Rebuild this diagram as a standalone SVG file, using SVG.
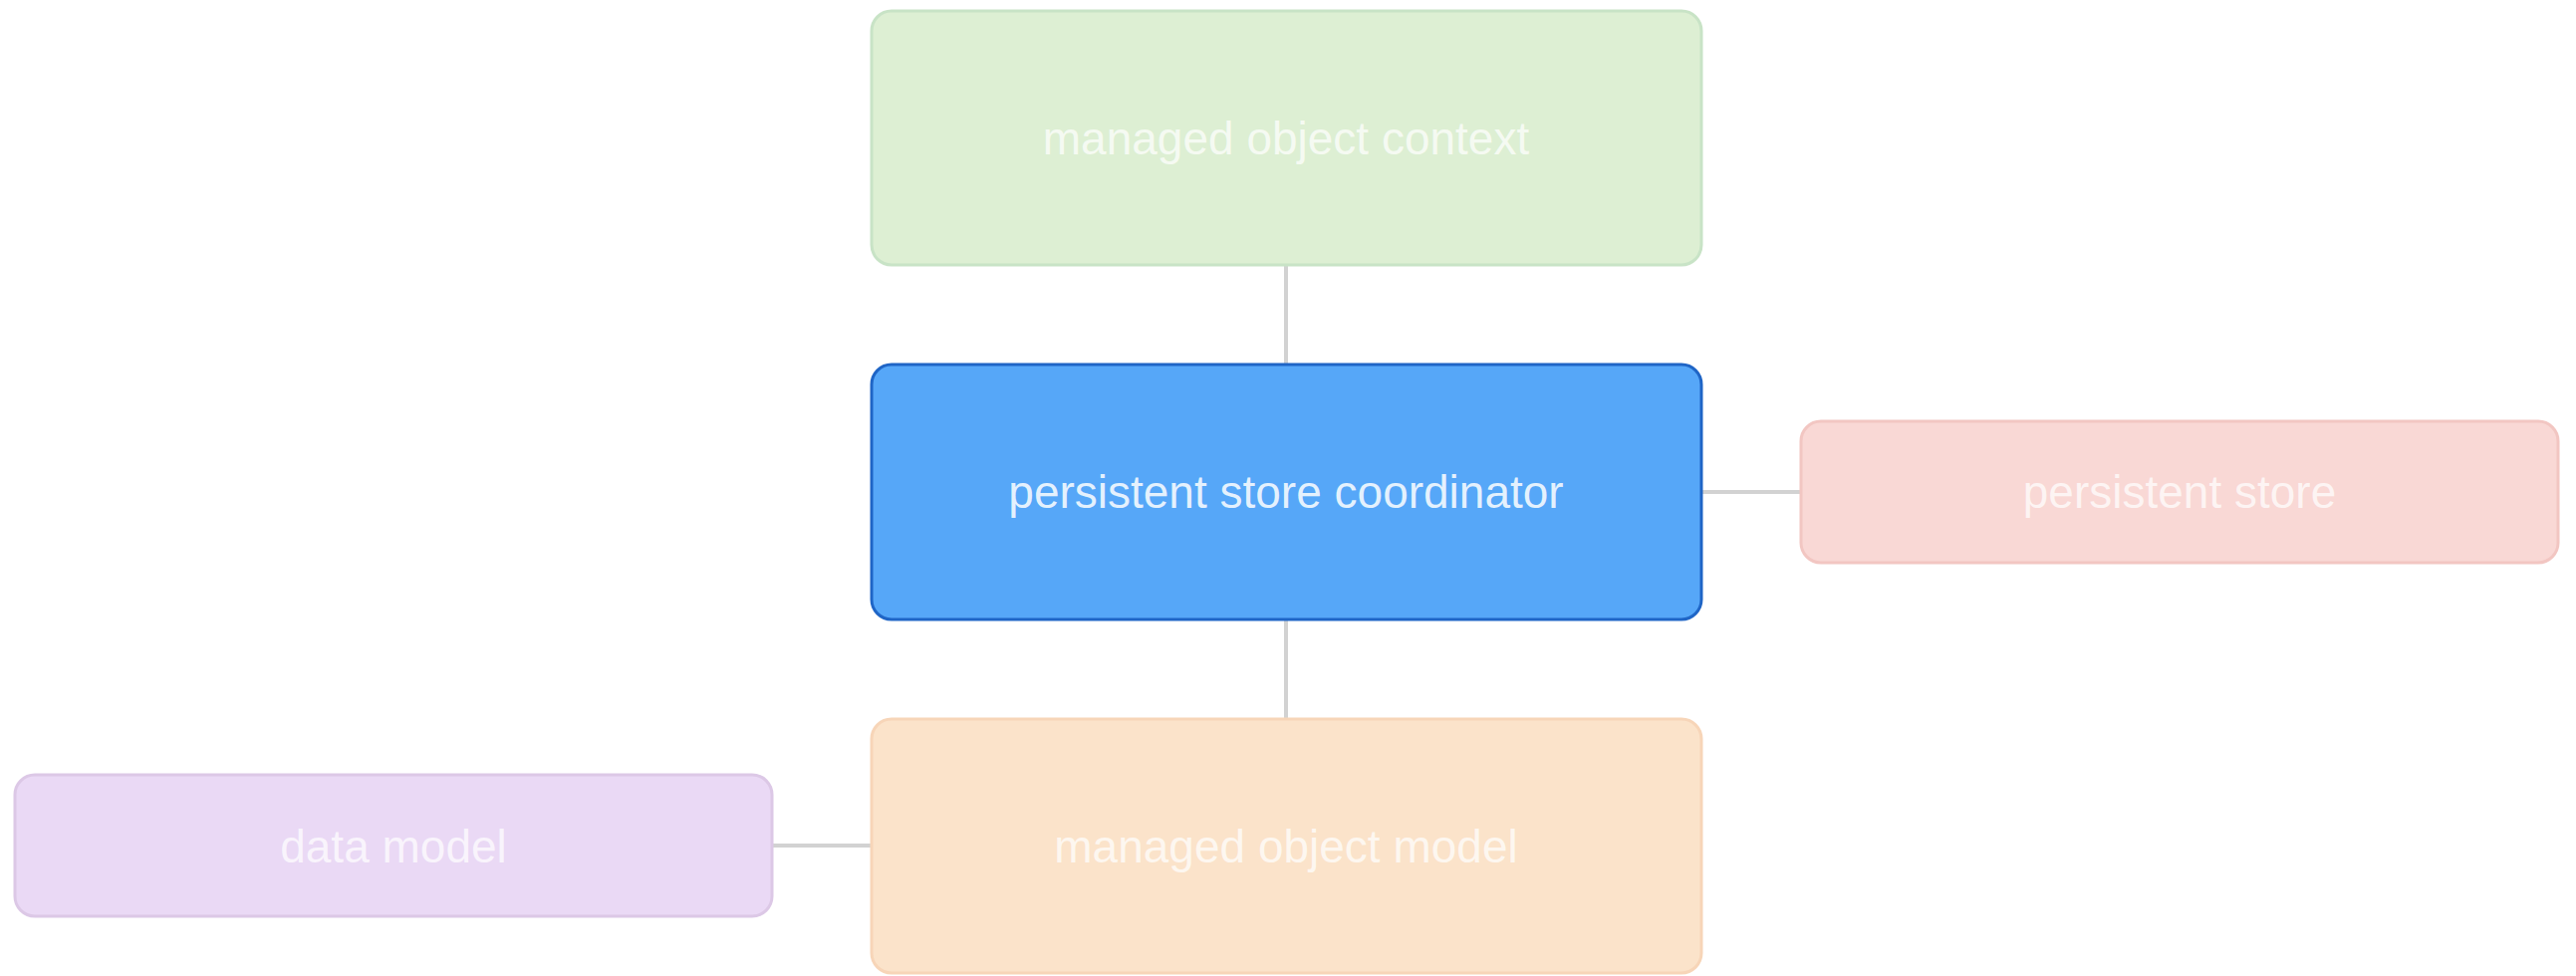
<svg xmlns="http://www.w3.org/2000/svg" width="2586" height="980" viewBox="0 0 2586 980">
<style>
.box{stroke-width:3}
.lbl{font-family:"Liberation Sans",Arial,sans-serif;font-size:46px;fill:#ffffff;text-anchor:middle}
.soft{fill-opacity:0.72}
.conn{stroke:#d2d2d2;stroke-width:4;fill:none}
</style>
<rect width="2586" height="980" fill="#ffffff"/>
<g id="connectors">
<line class="conn" x1="1291" y1="267" x2="1291" y2="365"/>
<line class="conn" x1="1291" y1="623" x2="1291" y2="721"/>
<line class="conn" x1="1709" y1="494" x2="1807" y2="494"/>
<line class="conn" x1="776" y1="849" x2="874" y2="849"/>
</g>
<g id="managed-object-context">
<rect class="box" x="875" y="11" width="833" height="255" rx="20" fill="#ddefd3" stroke="#c8e3c6"/>
<text class="lbl soft" x="1291" y="155">managed object context</text>
</g>
<g id="persistent-store-coordinator">
<rect class="box" x="875" y="366" width="833" height="256" rx="20" fill="#56a7f8" stroke="#1f65c6"/>
<text class="lbl" x="1291" y="510" fill-opacity="0.85">persistent store coordinator</text>
</g>
<g id="persistent-store">
<rect class="box" x="1808" y="423" width="760" height="142" rx="20" fill="#f9d8d5" stroke="#f2c6c2"/>
<text class="lbl soft" x="2188" y="510">persistent store</text>
</g>
<g id="managed-object-model">
<rect class="box" x="875" y="722" width="833" height="255" rx="20" fill="#fbe3ca" stroke="#f7d5b8"/>
<text class="lbl soft" x="1291" y="866">managed object model</text>
</g>
<g id="data-model">
<rect class="box" x="15" y="778" width="760" height="142" rx="20" fill="#ead9f5" stroke="#dcc8e6"/>
<text class="lbl soft" x="395" y="866">data model</text>
</g>
</svg>
